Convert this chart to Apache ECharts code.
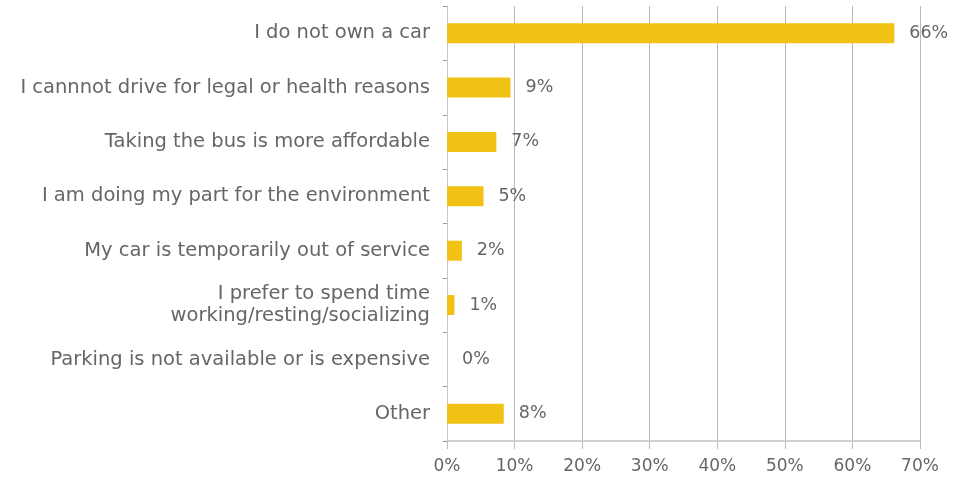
<!DOCTYPE html>
<html><head><meta charset="utf-8">
<script src="https://cdn.jsdelivr.net/npm/echarts@6/dist/echarts.min.js"></script>
<style>html,body{margin:0;padding:0;background:#fff}#c{width:953px;height:479px}</style>
</head><body><div id="c"></div>
<script>
const categories = [
  "I do not own a car",
  "I cannnot drive for legal or health reasons",
  "Taking the bus is more affordable",
  "I am doing my part for the environment",
  "My car is temporarily out of service",
  "I prefer to spend time\nworking/resting/socializing",
  "Parking is not available or is expensive",
  "Other"
];
const values = [66.2, 9.4, 7.3, 5.4, 2.2, 1.1, 0, 8.4];
const labels = ["66%", "9%", "7%", "5%", "2%", "1%", "0%", "8%"];
const xTicks = [0, 10, 20, 30, 40, 50, 60, 70];

const chart = echarts.init(document.getElementById('c'), null, {renderer: 'canvas'});
const font = 'DejaVu Sans';
chart.setOption({
  animation: false,
  grid: {left: 447, right: 33, top: 6, bottom: 38, containLabel: false},
  xAxis: {
    type: 'value', min: 0, max: 70, interval: 10,
    axisLine: {show: true, lineStyle: {color: '#d0d0d0', width: 2}},
    axisTick: {show: true, length: 8, lineStyle: {color: '#bbbbbb'}},
    splitLine: {show: true, lineStyle: {color: '#b8b8b8', width: 1}},
    axisLabel: {color: '#666', fontFamily: font, fontSize: 17, margin: 17,
      formatter: v => xTicks.includes(v) ? v + '%' : ''}
  },
  yAxis: {
    type: 'category', data: categories, inverse: true,
    axisLine: {show: true, lineStyle: {color: '#c8c8c8', width: 1}},
    axisTick: {show: true, length: 4, lineStyle: {color: '#999'}},
    axisLabel: {color: '#666', fontFamily: font, fontSize: 19.5, margin: 17, lineHeight: 22, align: 'right'}
  },
  series: [{
    type: 'bar', data: values, barWidth: 20,
    itemStyle: {color: '#F1C114'},
    label: {show: true, position: 'right', distance: 15, color: '#666', fontFamily: font, fontSize: 17.5,
      formatter: p => labels[p.dataIndex]}
  }]
});
</script></body></html>
